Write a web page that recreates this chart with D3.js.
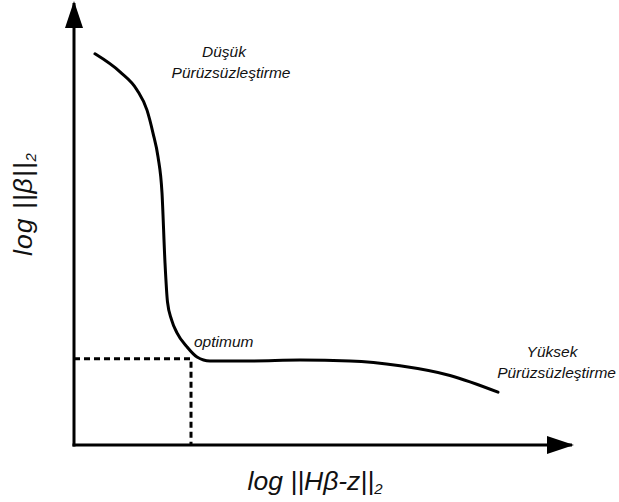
<!DOCTYPE html>
<meta charset="utf-8">
<style>
    body { margin: 0; background: #fff; }
    svg { display: block; font-family: "Liberation Sans", Arial, sans-serif; }
    .lbl { font-style: italic; font-size: 15.5px; fill: #111; }
    .ttl { font-style: italic; font-size: 26.5px; fill: #111; }
</style>
<body>
<script src="https://cdn.jsdelivr.net/npm/d3@7"></script>
<script>
    /* L-curve, values (arbitrary units 0-100) */
    var curveX = [4.2, 9.2, 12.6, 14.6, 15.8, 16.8, 17.6, 18.2, 18.7, 19.5, 20.6, 22.6, 24.6, 27.2, 35.2, 45.2, 55.2, 65.2, 75.2, 84.8];
    var curveY = [88.9, 84.8, 80.7, 76.1, 70.9, 65.5, 57.3, 41.4, 32.5, 28.5, 25.5, 22.3, 20.0, 19.1, 19.1, 19.3, 19.1, 18.0, 15.8, 12.0];
    var optimum = [23.4, 19.6];

    var labelLow = ["Düşük", "Pürüzsüzleştirme"];
    var labelHigh = ["Yüksek", "Pürüzsüzleştirme"];

    var w = 619;
    var h = 502;

    var svg = d3.select("body").append("svg")
        .attr("width", w)
        .attr("height", h);

    var xScale = d3.scaleLinear().domain([0, 100]).range([74, 574]);
    var yScale = d3.scaleLinear().domain([0, 100]).range([445, 5]);

    // arrow head
    svg.append("defs").append("marker")
        .attr("id", "arrow")
        .attr("viewBox", "0 0 27 18")
        .attr("refX", 25)
        .attr("refY", 9)
        .attr("markerUnits", "userSpaceOnUse")
        .attr("markerWidth", 27)
        .attr("markerHeight", 18)
        .attr("orient", "auto")
        .append("path")
        .attr("d", "M0,0 L27,9 L0,18 Z")
        .attr("fill", "#000");

    // axes
    svg.append("line")
        .attr("x1", xScale(0)).attr("y1", yScale(0) + 1.5)
        .attr("x2", xScale(0)).attr("y2", yScale(100) - 2)
        .attr("stroke", "#000").attr("stroke-width", 3)
        .attr("marker-end", "url(#arrow)");

    svg.append("line")
        .attr("x1", xScale(0) - 1.5).attr("y1", yScale(0))
        .attr("x2", xScale(99.6)).attr("y2", yScale(0))
        .attr("stroke", "#000").attr("stroke-width", 3)
        .attr("marker-end", "url(#arrow)");

    // dotted guides to the optimum
    svg.append("path")
        .attr("d", "M" + xScale(0) + "," + yScale(optimum[1]) +
            "H" + xScale(optimum[0]) +
            "V" + yScale(0))
        .attr("fill", "none")
        .attr("stroke", "#000")
        .attr("stroke-width", 3)
        .attr("stroke-dasharray", "6,4");

    // the curve
    var pts = curveX.map(function (x, i) { return [x, curveY[i]]; });
    var lineGenerator = d3.line()
        .x(function (d) { return xScale(d[0]); })
        .y(function (d) { return yScale(d[1]); })
        .curve(d3.curveMonotoneX);

    svg.append("path")
        .attr("d", lineGenerator(pts))
        .attr("fill", "none")
        .attr("stroke", "#000")
        .attr("stroke-width", 3)
        .attr("stroke-linecap", "round");

    // annotations
    svg.append("text").attr("class", "lbl")
        .attr("x", 224).attr("y", 57).attr("text-anchor", "middle")
        .text(labelLow[0]);
    svg.append("text").attr("class", "lbl")
        .attr("x", 231).attr("y", 78).attr("text-anchor", "middle")
        .text(labelLow[1]);

    svg.append("text").attr("class", "lbl")
        .attr("x", 194).attr("y", 347)
        .text("optimum");

    svg.append("text").attr("class", "lbl")
        .attr("x", 552).attr("y", 357).attr("text-anchor", "middle")
        .text(labelHigh[0]);
    svg.append("text").attr("class", "lbl")
        .attr("x", 616).attr("y", 378).attr("text-anchor", "end")
        .text(labelHigh[1]);

    // axis titles
    var xt = svg.append("text").attr("class", "ttl")
        .attr("x", 315).attr("y", 490).attr("text-anchor", "middle");
    xt.append("tspan").text("log ||Hβ-z||");
    xt.append("tspan").attr("dy", 4).attr("font-size", "15px").text("2");

    var yt = svg.append("text").attr("class", "ttl")
        .attr("transform", "translate(32,204) rotate(-90)")
        .attr("text-anchor", "middle")
        .attr("letter-spacing", "1px");
    yt.append("tspan").text("log ||β||");
    yt.append("tspan").attr("dy", 4).attr("font-size", "15px").text("2");
</script>
</body>
